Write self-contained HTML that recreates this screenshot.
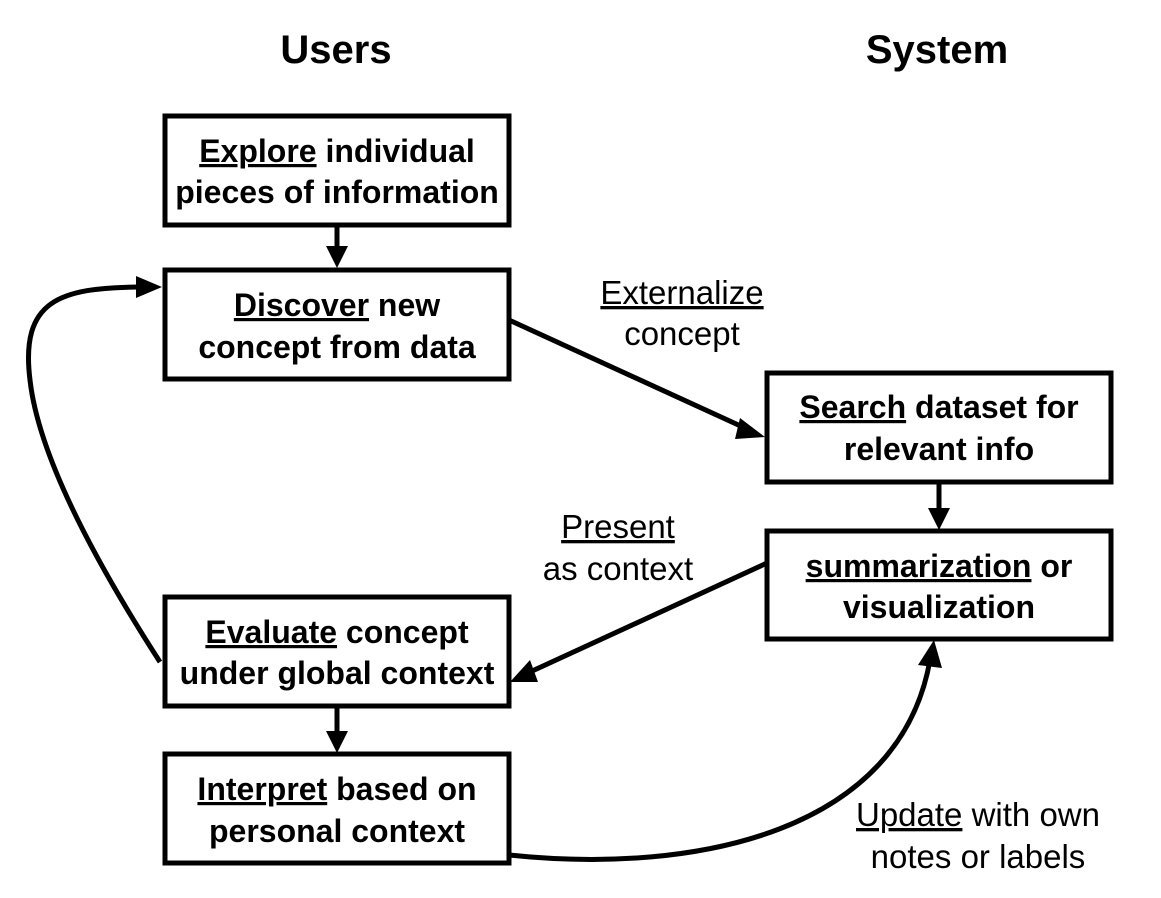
<!DOCTYPE html>
<html><head><meta charset="utf-8"><style>
html,body{margin:0;padding:0;background:#fff}
svg{display:block}
text{font-family:"Liberation Sans",Arial,sans-serif;fill:#000}
.b{font-weight:bold;font-size:32px}
.r{font-size:33px}
.t{font-weight:bold;font-size:40px}
</style></head><body>
<svg width="1161" height="898" viewBox="0 0 1161 898" xmlns="http://www.w3.org/2000/svg">
<text class="t" x="336" y="63" text-anchor="middle">Users</text>
<text class="t" x="937" y="63" text-anchor="middle">System</text>
<g fill="none" stroke="#000" stroke-width="5">
<rect x="165" y="116" width="344" height="109"/>
<rect x="165" y="270" width="344" height="109"/>
<rect x="767" y="373" width="344" height="109"/>
<rect x="767" y="531" width="344" height="108"/>
<rect x="165" y="597" width="344" height="109"/>
<rect x="165" y="754" width="344" height="109"/>
<line x1="337" y1="225" x2="337" y2="248"/>
<line x1="939" y1="482" x2="939" y2="510"/>
<line x1="337" y1="706" x2="337" y2="733"/>
<line x1="509" y1="320" x2="745" y2="428"/>
<line x1="767" y1="563" x2="530" y2="672"/>
<path d="M160 662 C 120 600, 40 470, 30 380 C 20 300, 60 288, 138 287"/>
<path d="M509 855 C 700 875, 900 830, 930 660"/>
</g>
<g fill="#000">
<polygon points="326,246 348,246 337,268"/>
<polygon points="928,508 950,508 939,530"/>
<polygon points="326,731 348,731 337,753"/>
<polygon points="136,276 136,298 162,287"/>
<polygon points="765,437 740,418 735,439"/>
<polygon points="510,682 538,682 530,660"/>
<polygon points="918,665 942,668 934,640"/>
</g>
<g text-anchor="middle">
<text class="b" x="337" y="162"><tspan text-decoration="underline">Explore</tspan> individual</text>
<text class="b" x="337" y="203">pieces of information</text>
<text class="b" x="337" y="316"><tspan text-decoration="underline">Discover</tspan> new</text>
<text class="b" x="337" y="358">concept from data</text>
<text class="b" x="939" y="418"><tspan text-decoration="underline">Search</tspan> dataset for</text>
<text class="b" x="939" y="460">relevant info</text>
<text class="b" x="939" y="577"><tspan text-decoration="underline">summarization</tspan> or</text>
<text class="b" x="939" y="618">visualization</text>
<text class="b" x="337" y="643"><tspan text-decoration="underline">Evaluate</tspan> concept</text>
<text class="b" x="337" y="684">under global context</text>
<text class="b" x="337" y="800"><tspan text-decoration="underline">Interpret</tspan> based on</text>
<text class="b" x="337" y="842">personal context</text>
<text class="r" x="682" y="304" text-decoration="underline">Externalize</text>
<text class="r" x="682" y="345">concept</text>
<text class="r" x="618" y="538" text-decoration="underline">Present</text>
<text class="r" x="618" y="580">as context</text>
<text class="r" x="978" y="826"><tspan text-decoration="underline">Update</tspan> with own</text>
<text class="r" x="978" y="868">notes or labels</text>
</g>
</svg>
</body></html>
